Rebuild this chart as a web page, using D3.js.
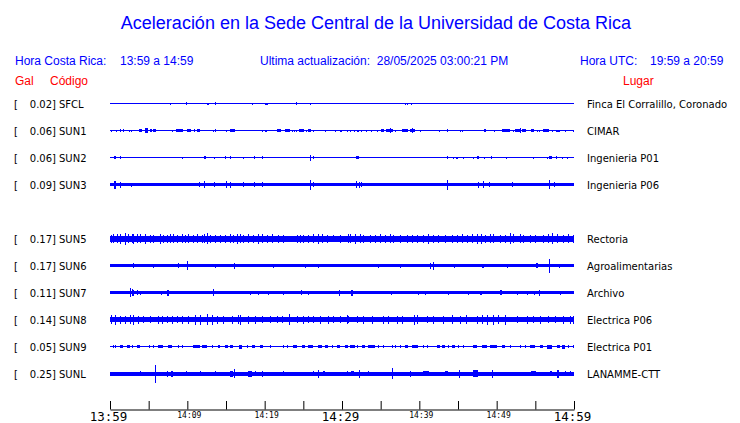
<!DOCTYPE html>
<html><head><meta charset="utf-8">
<script src="https://cdn.jsdelivr.net/npm/d3@7"></script>
<style>
html,body{margin:0;padding:0;background:#fff;}
svg{display:block;}
text{white-space:pre;}
</style></head>
<body>
<svg id="chart" width="740" height="423"></svg>
<script>
// ---------- data ----------
const title = "Aceleración en la Sede Central de la Universidad de Costa Rica";
const localLabel = "Hora Costa Rica:", localRange = "13:59 a 14:59";
const updateLabel = "Ultima actualización:  28/05/2025 03:00:21 PM";
const utcLabel = "Hora UTC:", utcRange = "19:59 a 20:59";

const codes  = ["SFCL","SUN1","SUN2","SUN3","SUN5","SUN6","SUN7","SUN8","SUN9","SUNL"];
const slots  = [0,1,2,3,5,6,7,8,9,10];      // row 4 (SUN4) is empty
const peakGal = [0.02,0.06,0.06,0.09,0.17,0.17,0.11,0.14,0.05,0.25];
const places = ["Finca El Corralillo, Coronado","CIMAR","Ingenieria P01","Ingenieria P06",
  "Rectoria","Agroalimentarias","Archivo","Electrica P06","Electrica P01","LANAMME-CTT"];
// background noise level (relative amplitude) per station
const noiseLevel = [0.5,0.5,0.5,1.5,3,1.5,1.5,2.2,0.5,2];

// time axis: minutes after 13:59
const tickMinutes = [0,5,10,15,20,25,30,35,40,45,50,55,60];
const tickLabels  = ["13:59","","14:09","","14:19","","14:29","","14:39","","14:49","","14:59"];
const majorTicks  = [0,30,60];

// events: [minute, relative amplitude, duration (min, optional)]
const sfcl = [[7.8,1],[9.8,1.5],[12.6,1],[13.58,1.5,0.15],[18.3,1],[20.1,1],[20.35,1],[24.0,1.5,0.15],[25.8,1],[38.1,1],[38.45,1],[38.96,1]];
const sun1 = [[0.17,1],[0.78,1],[1.29,1.5],[1.64,1.5,0.2],[2.5,1],[2.7,1],[3.75,1.5,0.4],[4.53,2.5,0.43],[5.17,1.5,0.2],[5.6,1.5,0.3],[8.0,1],[8.5,1.5,1.0],[10.0,1.5,0.44],[10.8,1.5],[11.3,1.5,0.35],[13.36,1],[13.6,1.5],[15.0,1],[15.5,1.5,0.6],[19.66,1],[20.1,1],[21.55,1.5,0.55],[22.6,1.5,0.65],[23.5,1],[23.8,1],[24.05,1],[24.44,1.5,0.7],[25.3,1],[25.64,1.5,0.3],[26.3,1],[27.85,1],[29.1,1],[29.8,1],[30.7,1],[31.0,1],[31.5,1],[32.0,1],[32.5,1],[33.1,1],[33.8,1],[34.5,1],[35.04,1.5,0.4],[35.7,1.5,0.85],[36.24,2.5],[36.9,1],[37.7,1.5,0.85],[38.8,1.5,0.7],[39.05,2.5],[40.1,1],[42.5,1],[43.6,1.5],[45.2,1],[45.56,1],[48.4,1.5,0.2],[49.66,1],[50.7,1.5,1.0],[52.15,1],[52.4,1.5,0.8],[53.0,2.5],[53.3,1.5,0.55],[54.4,1.5,0.43],[55.26,1],[55.5,1],[56.0,1.5,0.8],[57.2,1],[57.7,1,0.5],[58.8,1],[59.9,1]];
const sun2 = [[0.52,1.5,0.26],[1.29,1.5],[9.35,1],[12.2,1.5,0.15],[13.5,1],[14.9,1.5,0.12],[15.56,1.5],[17.2,1],[18.66,1.5],[19.7,1.5],[25.8,3],[26.3,1.5],[31.8,1.5,0.4],[43.6,1.5],[44.4,1],[44.8,1],[45.7,1],[46.9,1],[47.4,1.5,0.3],[48.3,1],[49.3,1.5],[51.2,1],[54.7,1],[56.5,1],[56.8,1.5,0.3],[57.7,1.5],[58.5,1],[59.1,1]];
const sun3 = [[0.58,4],[1.29,3],[2.76,2],[11.55,2.5],[12.2,3.5],[13.5,2.5],[14.97,3.5],[15.56,3],[17.24,2.5],[18.66,2.5],[19.7,2.5],[25.86,5],[26.3,2.5],[31.8,3.5],[32.24,3],[32.46,2.5],[43.6,5],[47.6,3],[48.27,3.5],[49.05,2.5],[52.0,2.5],[56.8,4.5],[57.4,2.5]];
const sun5 = [[0.13,4],[0.43,4.5],[0.86,4.5],[1.29,5],[1.94,6],[2.37,4.5],[2.8,4.5],[3.02,5],[3.45,4.5],[3.88,4.5],[4.53,5],[5.17,4],[5.6,4],[6.47,5],[6.9,4],[7.33,4],[7.76,4.5],[8.19,4.5],[8.62,4],[9.27,4.5],[9.7,4],[10.13,4.5],[10.78,4],[11.21,4.5],[11.85,4],[12.16,4.5],[12.5,5.5],[12.93,4],[13.58,4],[14.22,4],[14.87,4],[15.52,4.5],[15.95,4],[16.47,5],[16.81,4.5],[17.24,4],[17.89,4.5],[18.53,4],[19.18,5],[19.61,4.5],[20.26,4],[20.9,4.5],[21.77,4],[22.41,4],[24.14,4],[24.57,4],[25.0,4],[25.65,4],[26.29,4.5],[26.94,5],[27.37,4.5],[28.02,4],[28.88,3.5],[29.74,4],[30.82,4.5],[31.03,4.5],[31.68,5],[32.33,4.5],[32.76,4],[33.62,4],[34.27,4],[34.91,4.5],[35.56,4],[36.21,4.5],[36.64,4],[37.5,4],[38.36,4],[39.0,4],[39.66,4],[40.52,4],[41.16,5],[41.81,4],[42.46,4],[43.32,4],[44.18,4],[44.83,4],[45.47,4.5],[46.12,4],[46.77,4.5],[47.41,5],[47.93,5],[48.49,4],[49.14,4.5],[49.57,4.5],[50.43,4],[51.08,4],[51.72,5.5],[52.16,4.5],[53.02,4.5],[53.45,4],[54.31,4],[54.96,4],[56.03,4],[56.68,4.5],[57.11,5.5],[57.76,4.5],[58.62,4],[59.27,4.5],[59.91,4]];
const sun6 = [[3.02,2.5],[5.6,2],[8.75,2.5,0.2],[9.91,4.5],[13.58,2],[16.08,3],[21.12,2],[25.2,2],[26.94,2],[34.7,2],[37.5,2],[41.38,3],[41.81,4],[44.53,2],[45.4,1.5],[48.16,2],[51.38,2],[55.1,2.5,0.3],[56.81,7],[58.0,2]];
const sun7 = [[2.59,4.5],[2.8,3.5],[3.02,3],[3.45,2.5],[3.88,2],[6.6,2],[7.4,3,0.2],[13.36,3.5],[18.1,2],[19.18,2],[20.47,2],[22.4,2],[24.7,2.5],[25.65,2],[29.6,3,0.2],[31.2,3,0.2],[36.34,2],[39.87,2],[40.73,2],[43.7,2],[46.3,2],[47.9,2],[50.4,2.5,0.3],[52.6,2],[53.9,2],[54.8,2],[55.5,3],[58.2,2]];
const sun8 = [[0.13,4.5],[0.65,5],[1.29,4],[1.94,4],[2.59,4.5],[3.02,5],[3.66,4],[4.31,3.5],[5.17,3.5],[6.25,4],[6.68,4],[7.33,3.5],[7.97,4],[8.62,3.5],[9.27,4],[10.13,4],[10.99,5],[11.64,5],[12.5,5.5],[13.15,5],[13.79,4],[14.66,4],[15.73,4],[16.59,4.5],[16.81,5],[17.89,4],[18.75,4],[19.61,3.5],[20.69,3.5],[21.55,3.5],[22.2,3.5],[23.1,5.5],[24.14,3.5],[25.0,4],[25.65,3.5],[26.29,3.5],[27.16,4],[28.23,4],[28.88,3.5],[29.74,3.5],[30.6,4.5],[30.82,3.5],[31.9,3.5],[32.76,4],[33.84,4],[35.34,4],[35.99,4],[37.07,4],[37.72,4],[39.3,5],[39.7,4.5],[41.0,3.5],[41.81,4],[43.1,4],[44.18,4.5],[45.26,4],[46.03,4.5],[47.41,4],[48.06,4.5],[48.7,5],[49.57,5],[50.22,4.5],[51.08,5],[52.59,3.5],[53.88,4],[54.74,3.5],[55.6,4],[56.68,3.5],[57.54,3.5],[58.62,4],[59.48,4],[59.91,4]];
const sun9 = [[0.34,1.2],[0.65,1.2],[1.29,1.2,0.43],[2.16,1.2,0.43],[2.8,1.2],[3.45,1.2,0.43],[5.04,1.2],[5.6,1.2],[6.25,1.2,0.65],[7.54,1.2,0.43],[8.84,1.2],[9.27,1.2,0.22],[10.78,1.2,0.86],[11.85,1.2,0.65],[13.15,1.2],[14.0,1.2,0.22],[14.87,1.2,0.43],[15.52,1.2,0.43],[16.72,2,0.3],[17.67,1.2],[18.32,1.2,0.43],[19.4,1.2,0.43],[20.69,1.2],[22.41,1.2],[22.84,1.2],[23.7,1.2,0.43],[24.78,1.2,0.43],[25.65,1.2,0.65],[26.94,1.2,0.43],[27.8,1.2,0.43],[28.66,1.2,0.22],[29.31,1.2,0.43],[30.39,1.2,0.43],[31.03,1.2,0.65],[31.9,1.2,0.22],[32.54,1.2,0.43],[33.4,1.2,0.86],[34.7,1.2],[35.34,1.2],[36.42,1.2],[36.85,1.2],[37.5,1.2],[38.15,1.2,0.43],[39.0,1.2,0.86],[40.52,1.2],[40.95,1.2],[42.24,1.2,0.43],[42.9,1.2,0.43],[43.75,1.2],[44.18,1.2,0.43],[45.04,1.2],[45.69,1.2],[46.98,1.2,0.43],[48.06,1.2,0.65],[49.14,1.2,0.86],[50.65,1.2,0.43],[51.72,1.2],[53.02,1.2],[53.66,1.2],[54.31,1.2,0.65],[55.6,1.2,0.43],[56.47,2,0.65],[57.76,1.2,0.43],[58.41,2,0.43],[59.27,1.2],[59.91,1.2]];
const sunl = [[3.88,2.5],[5.82,9],[7.33,3],[7.9,3,0.25],[9.8,2.5,0.2],[11.64,2.5],[13.58,2.5],[15.52,3,0.4],[16.08,4.5],[17.9,3,0.4],[18.75,2.5],[19.6,3],[22.41,2.5],[26.29,2.5],[26.94,4],[27.6,2.5],[30.6,2.5],[31.2,2.5,0.4],[32.24,4],[33.4,2.5],[36.51,5.5],[38.79,3],[40.5,2.5,0.8],[43.3,2.5,0.4],[45.17,4],[47.0,3.5,0.6],[49.35,4],[54.5,2.5,0.6],[56.9,2.5,0.2],[57.8,4,0.2],[58.8,2.5],[59.5,2.5]];
const events = [sfcl,sun1,sun2,sun3,sun5,sun6,sun7,sun8,sun9,sunl];

// ---------- drawing ----------
const BLUE = "#0000ff", RED = "#ff0000";
const svg = d3.select("#chart");
const hdrFont = "'Liberation Sans', Arial, Helvetica, sans-serif";
const lblFont = "'DejaVu Sans', Verdana, sans-serif";
const monoFont = "'DejaVu Sans Mono', monospace";

const x = d3.scaleLinear().domain([0,60]).range([110,574]);
const y = d3.scalePoint().domain(d3.range(11)).range([103.5,373.5]);
const amp = d3.scaleLinear().domain([0,13.5]).range([0,13.5]);
const DEF_DUR = 0.14;

svg.append("text").attr("x",376).attr("y",29).attr("text-anchor","middle")
  .attr("font-family",hdrFont).attr("font-size",18).attr("fill",BLUE).text(title);

const hdr = [[15,localLabel],[120,localRange],[260,updateLabel],[580,utcLabel],[650,utcRange]];
svg.append("g").selectAll("text").data(hdr).join("text")
  .attr("x",d=>d[0]).attr("y",65).attr("font-family",hdrFont).attr("font-size",12)
  .attr("fill",BLUE).text(d=>d[1]);
const red = [[15,"Gal"],[50,"Código"],[623,"Lugar"]];
svg.append("g").selectAll("text").data(red).join("text")
  .attr("x",d=>d[0]).attr("y",85).attr("font-family",hdrFont).attr("font-size",12)
  .attr("fill",RED).text(d=>d[1]);

const rows = codes.map((c,i)=>({code:c, slot:slots[i], gal:peakGal[i], place:places[i], base:noiseLevel[i], ev:events[i]}));

const rg = svg.append("g").selectAll("g").data(rows).join("g")
  .attr("transform",d=>`translate(0,${y(d.slot)})`);

const lab = rg.append("g").attr("font-family",lblFont).attr("font-size",10).attr("fill","#000");
lab.append("text").attr("x",14).attr("y",4).text("[");
lab.append("text").attr("x",56).attr("y",4).attr("text-anchor","end").text(d=>d.gal.toFixed(2)+"]");
lab.append("text").attr("x",59).attr("y",4).text(d=>d.code);
lab.append("text").attr("x",587).attr("y",4).text(d=>d.place);

const tr = rg.append("g").attr("fill",BLUE).attr("shape-rendering","crispEdges");
tr.append("rect").attr("x",x(0)).attr("width",x(60)-x(0))
  .attr("y",d=>-amp(d.base)).attr("height",d=>2*amp(d.base));
tr.each(function(d){
  d3.select(this).selectAll("rect.ev").data(d.ev).join("rect").attr("class","ev")
    .attr("x",e=>x(e[0]))
    .attr("width",e=>Math.max(1,x(e[0]+(e[2]||DEF_DUR))-x(e[0])))
    .attr("y",e=>-amp(e[1])).attr("height",e=>2*amp(e[1]));
});

// time axis
const axis = d3.axisBottom(x).tickValues(tickMinutes).tickSizeInner(-8.5).tickSizeOuter(0)
  .tickFormat((m,i)=>tickLabels[i]);
const ag = svg.append("g").attr("transform","translate(0,409.5)").call(axis);
ag.select(".domain").attr("stroke","#000").attr("stroke-width",1);
ag.selectAll(".tick line").attr("stroke","#000");
ag.selectAll(".tick text").attr("fill","#000").attr("dy",null)
  .attr("font-family",monoFont)
  .attr("font-size",m=>majorTicks.includes(m)?12.5:8)
  .attr("y",m=>majorTicks.includes(m)?11:8)
  .attr("x",m=>majorTicks.includes(m)?-2:1.5);
</script>
</body></html>
